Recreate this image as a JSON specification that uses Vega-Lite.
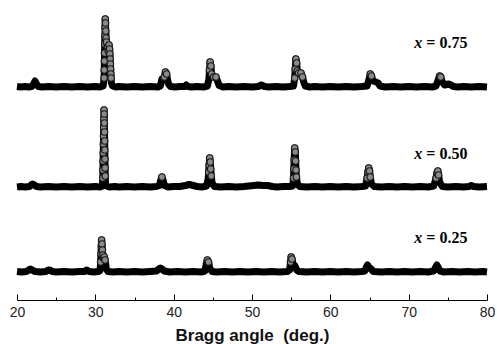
{
"$schema": "https://vega.github.io/schema/vega-lite/v6.json",
"width": 470, "height": 300,
"autosize": "none",
"padding": {"left": 17, "top": 0, "right": 10, "bottom": 44},
"background": "white",
"config": {"view": {"stroke": null}},
"datasets": {
"xrd": [
{"s":"0.75","a":20.0,"i":213.5},{"s":"0.75","a":20.5,"i":213},{"s":"0.75","a":21.0,"i":213.5},{"s":"0.75","a":21.5,"i":213},{"s":"0.75","a":21.9,"i":213.5},{"s":"0.75","a":22.1,"i":216},{"s":"0.75","a":22.3,"i":219},{"s":"0.75","a":22.5,"i":216},{"s":"0.75","a":22.7,"i":213.5},{"s":"0.75","a":23.2,"i":213},{"s":"0.75","a":24,"i":213.5},{"s":"0.75","a":25,"i":213},{"s":"0.75","a":26,"i":213.5},{"s":"0.75","a":27,"i":213},{"s":"0.75","a":28,"i":213.5},{"s":"0.75","a":29,"i":213},{"s":"0.75","a":30,"i":213.5},{"s":"0.75","a":30.6,"i":213},{"s":"0.75","a":31.0,"i":214},
{"s":"0.75","a":31.12,"i":222},{"s":"0.75","a":31.14,"i":230},{"s":"0.75","a":31.16,"i":239},{"s":"0.75","a":31.18,"i":247},{"s":"0.75","a":31.2,"i":256},{"s":"0.75","a":31.22,"i":264},{"s":"0.75","a":31.24,"i":273},{"s":"0.75","a":31.27,"i":281},{"s":"0.75","a":31.3,"i":277},{"s":"0.75","a":31.33,"i":269},{"s":"0.75","a":31.37,"i":262},{"s":"0.75","a":31.42,"i":258},{"s":"0.75","a":31.55,"i":253},{"s":"0.75","a":31.65,"i":249},{"s":"0.75","a":31.75,"i":255},{"s":"0.75","a":31.82,"i":251},{"s":"0.75","a":31.86,"i":246},{"s":"0.75","a":31.89,"i":241},{"s":"0.75","a":31.92,"i":236},{"s":"0.75","a":31.95,"i":231},{"s":"0.75","a":31.98,"i":226},{"s":"0.75","a":32.01,"i":222},{"s":"0.75","a":32.05,"i":217},{"s":"0.75","a":32.2,"i":214},{"s":"0.75","a":32.6,"i":213},{"s":"0.75","a":33,"i":213.5},{"s":"0.75","a":34,"i":213},{"s":"0.75","a":35,"i":213.5},{"s":"0.75","a":36,"i":213},{"s":"0.75","a":37,"i":213.5},{"s":"0.75","a":38,"i":213},{"s":"0.75","a":38.3,"i":214},{"s":"0.75","a":38.5,"i":221},{"s":"0.75","a":38.65,"i":220},{"s":"0.75","a":38.8,"i":223},{"s":"0.75","a":38.95,"i":228},{"s":"0.75","a":39.1,"i":226},{"s":"0.75","a":39.2,"i":221},{"s":"0.75","a":39.35,"i":216},{"s":"0.75","a":39.6,"i":213.5},{"s":"0.75","a":40.2,"i":213},{"s":"0.75","a":40.8,"i":213.5},{"s":"0.75","a":41.4,"i":213.5},{"s":"0.75","a":41.6,"i":215},{"s":"0.75","a":41.8,"i":213.5},{"s":"0.75","a":42.3,"i":213},{"s":"0.75","a":43,"i":213.5},{"s":"0.75","a":43.8,"i":213},{"s":"0.75","a":44.3,"i":214},{"s":"0.75","a":44.5,"i":221},{"s":"0.75","a":44.57,"i":230},{"s":"0.75","a":44.65,"i":238},{"s":"0.75","a":44.75,"i":234},{"s":"0.75","a":44.85,"i":226},{"s":"0.75","a":45.1,"i":223},{"s":"0.75","a":45.4,"i":223},{"s":"0.75","a":45.6,"i":219},{"s":"0.75","a":45.8,"i":214.5},{"s":"0.75","a":46.3,"i":213},{"s":"0.75","a":47,"i":213.5},{"s":"0.75","a":48,"i":213},{"s":"0.75","a":49,"i":213.5},{"s":"0.75","a":50,"i":213},{"s":"0.75","a":50.8,"i":213.5},{"s":"0.75","a":51.2,"i":215},{"s":"0.75","a":51.6,"i":213.5},{"s":"0.75","a":52.2,"i":213},{"s":"0.75","a":53,"i":213.5},{"s":"0.75","a":54,"i":213},{"s":"0.75","a":54.8,"i":213.5},{"s":"0.75","a":55.3,"i":214},{"s":"0.75","a":55.45,"i":222},{"s":"0.75","a":55.52,"i":231},{"s":"0.75","a":55.6,"i":241},{"s":"0.75","a":55.7,"i":237},{"s":"0.75","a":55.78,"i":229},{"s":"0.75","a":55.95,"i":227},{"s":"0.75","a":56.25,"i":227},{"s":"0.75","a":56.45,"i":223},{"s":"0.75","a":56.6,"i":218},{"s":"0.75","a":56.8,"i":214},{"s":"0.75","a":57.4,"i":213},{"s":"0.75","a":58,"i":213.5},{"s":"0.75","a":59,"i":213},{"s":"0.75","a":60,"i":213.5},{"s":"0.75","a":61,"i":213},{"s":"0.75","a":62,"i":213.5},{"s":"0.75","a":63,"i":213},{"s":"0.75","a":64,"i":213.5},{"s":"0.75","a":64.7,"i":214},{"s":"0.75","a":64.95,"i":221},{"s":"0.75","a":65.1,"i":226},{"s":"0.75","a":65.25,"i":224},{"s":"0.75","a":65.45,"i":219},{"s":"0.75","a":65.85,"i":218},{"s":"0.75","a":66.1,"i":217},{"s":"0.75","a":66.35,"i":214},{"s":"0.75","a":67,"i":213},{"s":"0.75","a":68,"i":213.5},{"s":"0.75","a":69,"i":213},{"s":"0.75","a":70,"i":213.5},{"s":"0.75","a":71,"i":213},{"s":"0.75","a":72,"i":213.5},{"s":"0.75","a":73,"i":213},{"s":"0.75","a":73.5,"i":214},{"s":"0.75","a":73.8,"i":221},{"s":"0.75","a":73.95,"i":224},{"s":"0.75","a":74.1,"i":223},{"s":"0.75","a":74.3,"i":218},{"s":"0.75","a":74.6,"i":215},{"s":"0.75","a":75.1,"i":216},{"s":"0.75","a":75.4,"i":215},{"s":"0.75","a":75.7,"i":213.5},{"s":"0.75","a":76.3,"i":213},{"s":"0.75","a":77,"i":213.5},{"s":"0.75","a":78,"i":213},{"s":"0.75","a":79,"i":213.5},{"s":"0.75","a":80,"i":213},
{"s":"0.50","a":20.0,"i":113},{"s":"0.50","a":20.5,"i":113.5},{"s":"0.50","a":21,"i":113},{"s":"0.50","a":21.6,"i":113.5},{"s":"0.50","a":21.8,"i":115},{"s":"0.50","a":22.0,"i":116},{"s":"0.50","a":22.2,"i":115},{"s":"0.50","a":22.5,"i":113.5},{"s":"0.50","a":23,"i":113},{"s":"0.50","a":24,"i":113.5},{"s":"0.50","a":25,"i":113},{"s":"0.50","a":26,"i":113.5},{"s":"0.50","a":27,"i":113},{"s":"0.50","a":28,"i":113.5},{"s":"0.50","a":29,"i":113},{"s":"0.50","a":30,"i":113.5},{"s":"0.50","a":30.6,"i":113},{"s":"0.50","a":30.9,"i":114},
{"s":"0.50","a":30.95,"i":122},{"s":"0.50","a":30.97,"i":130},{"s":"0.50","a":30.99,"i":139},{"s":"0.50","a":31.01,"i":147},{"s":"0.50","a":31.03,"i":156},{"s":"0.50","a":31.05,"i":164},{"s":"0.50","a":31.07,"i":173},{"s":"0.50","a":31.09,"i":181},{"s":"0.50","a":31.11,"i":190},{"s":"0.50","a":31.13,"i":186},{"s":"0.50","a":31.15,"i":177},{"s":"0.50","a":31.17,"i":168},{"s":"0.50","a":31.19,"i":159},{"s":"0.50","a":31.21,"i":150},{"s":"0.50","a":31.23,"i":141},{"s":"0.50","a":31.25,"i":132},{"s":"0.50","a":31.27,"i":124},{"s":"0.50","a":31.3,"i":117},{"s":"0.50","a":31.4,"i":114},{"s":"0.50","a":31.8,"i":113},{"s":"0.50","a":32.5,"i":113.5},{"s":"0.50","a":33,"i":113},{"s":"0.50","a":34,"i":113.5},{"s":"0.50","a":35,"i":113},{"s":"0.50","a":36,"i":113.5},{"s":"0.50","a":37,"i":113},{"s":"0.50","a":37.8,"i":113.5},{"s":"0.50","a":38.2,"i":114.5},{"s":"0.50","a":38.35,"i":120},{"s":"0.50","a":38.5,"i":123},{"s":"0.50","a":38.65,"i":120},{"s":"0.50","a":38.8,"i":114.5},{"s":"0.50","a":39.3,"i":113},{"s":"0.50","a":40,"i":113.5},{"s":"0.50","a":40.8,"i":113.5},{"s":"0.50","a":41.5,"i":114.5},{"s":"0.50","a":42.0,"i":115.5},{"s":"0.50","a":42.5,"i":114.5},{"s":"0.50","a":43,"i":113.5},{"s":"0.50","a":43.6,"i":113},{"s":"0.50","a":44.2,"i":114},{"s":"0.50","a":44.4,"i":121},{"s":"0.50","a":44.47,"i":128},{"s":"0.50","a":44.53,"i":135},{"s":"0.50","a":44.6,"i":142},{"s":"0.50","a":44.67,"i":138},{"s":"0.50","a":44.73,"i":131},{"s":"0.50","a":44.8,"i":124},{"s":"0.50","a":44.9,"i":117},{"s":"0.50","a":45.2,"i":113.5},{"s":"0.50","a":46,"i":113},{"s":"0.50","a":47,"i":113.5},{"s":"0.50","a":48,"i":113},{"s":"0.50","a":49,"i":113.5},{"s":"0.50","a":49.6,"i":114},{"s":"0.50","a":50.2,"i":114.5},{"s":"0.50","a":50.8,"i":115},{"s":"0.50","a":51.4,"i":114.5},{"s":"0.50","a":52,"i":114.5},{"s":"0.50","a":52.6,"i":113.5},{"s":"0.50","a":53.2,"i":113},{"s":"0.50","a":54,"i":113.5},{"s":"0.50","a":54.8,"i":113.5},{"s":"0.50","a":55.2,"i":114},{"s":"0.50","a":55.3,"i":122},{"s":"0.50","a":55.34,"i":131},{"s":"0.50","a":55.38,"i":140},{"s":"0.50","a":55.45,"i":152},{"s":"0.50","a":55.52,"i":148},{"s":"0.50","a":55.57,"i":139},{"s":"0.50","a":55.62,"i":130},{"s":"0.50","a":55.67,"i":123},{"s":"0.50","a":55.8,"i":116},{"s":"0.50","a":56.1,"i":113.5},{"s":"0.50","a":57,"i":113},{"s":"0.50","a":58,"i":113.5},{"s":"0.50","a":59,"i":113},{"s":"0.50","a":60,"i":113.5},{"s":"0.50","a":61,"i":113},{"s":"0.50","a":62,"i":113.5},{"s":"0.50","a":63,"i":113},{"s":"0.50","a":64,"i":113.5},{"s":"0.50","a":64.5,"i":114},{"s":"0.50","a":64.7,"i":122},{"s":"0.50","a":64.8,"i":128},{"s":"0.50","a":64.9,"i":132},{"s":"0.50","a":65.0,"i":129},{"s":"0.50","a":65.1,"i":123},{"s":"0.50","a":65.25,"i":116},{"s":"0.50","a":65.6,"i":113.5},{"s":"0.50","a":66.5,"i":113},{"s":"0.50","a":67.5,"i":113.5},{"s":"0.50","a":68.5,"i":113},{"s":"0.50","a":69.5,"i":113.5},{"s":"0.50","a":70.5,"i":113},{"s":"0.50","a":71.5,"i":113.5},{"s":"0.50","a":72.5,"i":113},{"s":"0.50","a":73.2,"i":114},{"s":"0.50","a":73.5,"i":122},{"s":"0.50","a":73.62,"i":127},{"s":"0.50","a":73.72,"i":129},{"s":"0.50","a":73.82,"i":125},{"s":"0.50","a":73.95,"i":118},{"s":"0.50","a":74.3,"i":113.5},{"s":"0.50","a":75,"i":113},{"s":"0.50","a":76,"i":113.5},{"s":"0.50","a":77,"i":113},{"s":"0.50","a":77.7,"i":113.5},{"s":"0.50","a":78,"i":114.5},{"s":"0.50","a":78.3,"i":113.5},{"s":"0.50","a":79,"i":113},{"s":"0.50","a":80,"i":113.5},
{"s":"0.25","a":20.0,"i":28.5},{"s":"0.25","a":20.6,"i":28},{"s":"0.25","a":21.2,"i":28.5},{"s":"0.25","a":21.5,"i":30},{"s":"0.25","a":21.7,"i":31},{"s":"0.25","a":21.9,"i":30},{"s":"0.25","a":22.3,"i":28.5},{"s":"0.25","a":23,"i":28},{"s":"0.25","a":23.7,"i":28.5},{"s":"0.25","a":24.0,"i":30},{"s":"0.25","a":24.2,"i":30},{"s":"0.25","a":24.5,"i":28.5},{"s":"0.25","a":25,"i":28},{"s":"0.25","a":26,"i":28.5},{"s":"0.25","a":27,"i":28},{"s":"0.25","a":28,"i":28.5},{"s":"0.25","a":28.6,"i":28.5},{"s":"0.25","a":28.9,"i":30},{"s":"0.25","a":29.2,"i":28.5},{"s":"0.25","a":29.8,"i":28},{"s":"0.25","a":30.4,"i":28.5},{"s":"0.25","a":30.6,"i":29.5},{"s":"0.25","a":30.68,"i":38},{"s":"0.25","a":30.72,"i":46},{"s":"0.25","a":30.76,"i":54},{"s":"0.25","a":30.8,"i":60},{"s":"0.25","a":30.85,"i":56},{"s":"0.25","a":30.9,"i":50},{"s":"0.25","a":30.96,"i":45},{"s":"0.25","a":31.05,"i":42},{"s":"0.25","a":31.15,"i":43},{"s":"0.25","a":31.25,"i":40},{"s":"0.25","a":31.32,"i":36},{"s":"0.25","a":31.4,"i":31},{"s":"0.25","a":31.6,"i":28.5},{"s":"0.25","a":32.3,"i":28},{"s":"0.25","a":33,"i":28.5},{"s":"0.25","a":34,"i":28},{"s":"0.25","a":35,"i":28.5},{"s":"0.25","a":36,"i":28},{"s":"0.25","a":37,"i":28.5},{"s":"0.25","a":37.8,"i":29},{"s":"0.25","a":38.1,"i":31},{"s":"0.25","a":38.3,"i":32},{"s":"0.25","a":38.5,"i":31},{"s":"0.25","a":38.8,"i":29},{"s":"0.25","a":39.5,"i":28},{"s":"0.25","a":40.5,"i":28.5},{"s":"0.25","a":41.5,"i":28},{"s":"0.25","a":42.5,"i":28.5},{"s":"0.25","a":43.5,"i":28},{"s":"0.25","a":44.0,"i":29},{"s":"0.25","a":44.15,"i":36},{"s":"0.25","a":44.3,"i":40},{"s":"0.25","a":44.45,"i":38},{"s":"0.25","a":44.6,"i":32},{"s":"0.25","a":44.9,"i":28.5},{"s":"0.25","a":45.5,"i":28},{"s":"0.25","a":46.5,"i":28.5},{"s":"0.25","a":47.5,"i":28},{"s":"0.25","a":48.5,"i":28.5},{"s":"0.25","a":49.5,"i":28},{"s":"0.25","a":50.5,"i":28.5},{"s":"0.25","a":51.5,"i":28},{"s":"0.25","a":52.5,"i":28.5},{"s":"0.25","a":53.5,"i":28},{"s":"0.25","a":54.5,"i":28.5},{"s":"0.25","a":54.8,"i":30},{"s":"0.25","a":54.92,"i":38},{"s":"0.25","a":55.0,"i":43},{"s":"0.25","a":55.1,"i":41},{"s":"0.25","a":55.25,"i":36},{"s":"0.25","a":55.5,"i":34},{"s":"0.25","a":55.7,"i":30},{"s":"0.25","a":56,"i":28.5},{"s":"0.25","a":57,"i":28},{"s":"0.25","a":58,"i":28.5},{"s":"0.25","a":59,"i":28},{"s":"0.25","a":60,"i":28.5},{"s":"0.25","a":61,"i":28},{"s":"0.25","a":62,"i":28.5},{"s":"0.25","a":63,"i":28},{"s":"0.25","a":64,"i":28.5},{"s":"0.25","a":64.4,"i":29},{"s":"0.25","a":64.6,"i":33},{"s":"0.25","a":64.75,"i":35},{"s":"0.25","a":64.9,"i":33},{"s":"0.25","a":65.2,"i":31},{"s":"0.25","a":65.5,"i":28.5},{"s":"0.25","a":66.5,"i":28},{"s":"0.25","a":67.5,"i":28.5},{"s":"0.25","a":68.5,"i":28},{"s":"0.25","a":69.5,"i":28.5},{"s":"0.25","a":70.5,"i":28},{"s":"0.25","a":71.5,"i":28.5},{"s":"0.25","a":72.5,"i":28},{"s":"0.25","a":73.2,"i":29},{"s":"0.25","a":73.45,"i":33},{"s":"0.25","a":73.6,"i":35},{"s":"0.25","a":73.75,"i":33},{"s":"0.25","a":74,"i":29},{"s":"0.25","a":74.5,"i":28},{"s":"0.25","a":75.5,"i":28.5},{"s":"0.25","a":76.5,"i":28},{"s":"0.25","a":77.5,"i":28.5},{"s":"0.25","a":78.5,"i":28},{"s":"0.25","a":79.5,"i":28.5},{"s":"0.25","a":80,"i":28}
],
"labels": [
{"t":"= 0.75","a":72.0,"i":257},
{"t":"= 0.50","a":72.0,"i":146.5},
{"t":"= 0.25","a":72.0,"i":62.5}
]
},
"layer": [
{
"data": {"name": "xrd"},
"mark": {"type": "line", "color": "black", "strokeWidth": 7, "strokeJoin": "round", "strokeCap": "butt"},
"encoding": {
"x": {"field": "a", "type": "quantitative", "scale": {"domain": [20, 80], "nice": false, "zero": false},
"axis": {"orient": "bottom", "values": [20, 30, 40, 50, 60, 70, 80], "tickSize": -6, "tickColor": "black", "domainColor": "black", "domainWidth": 1, "tickWidth": 1, "grid": false, "labelFont": "Liberation Sans", "labelFontSize": 14, "labelColor": "#222222", "labelPadding": 11, "labelFlush": false, "title": "Bragg angle \u00a0(deg.)", "titleFont": "Liberation Sans", "titleFontSize": 17, "titleFontWeight": "bold", "titleColor": "#111111", "titlePadding": 8}},
"y": {"field": "i", "type": "quantitative", "scale": {"domain": [0, 300], "nice": false, "zero": false}, "axis": null},
"detail": {"field": "s"}
}
},
{
"data": {"name": "xrd"},
"transform": [
{"joinaggregate": [{"op": "min", "field": "i", "as": "m"}], "groupby": ["s"]},
{"filter": "datum.i - datum.m > 8"}
],
"mark": {"type": "point", "shape": "circle", "filled": true, "fill": "#8a8a8a", "stroke": "#1a1a1a", "strokeWidth": 1.2, "size": 42, "opacity": 1, "fillOpacity": 1},
"encoding": {
"x": {"field": "a", "type": "quantitative", "axis": {"orient": "bottom", "values": [25, 35, 45, 55, 65, 75], "tickSize": -3, "tickColor": "black", "labels": false, "domain": false, "grid": false, "title": null}},
"y": {"field": "i", "type": "quantitative", "axis": null}
}
},
{
"data": {"name": "labels"},
"mark": {"type": "text", "text": "x", "align": "right", "baseline": "middle", "dx": -2, "font": "Liberation Serif", "fontSize": 16, "fontWeight": "bold", "fontStyle": "italic", "color": "black"},
"encoding": {
"x": {"field": "a", "type": "quantitative", "axis": null},
"y": {"field": "i", "type": "quantitative", "axis": null}
}
},
{
"data": {"name": "labels"},
"mark": {"type": "text", "align": "left", "baseline": "middle", "dx": 2, "font": "Liberation Serif", "fontSize": 16, "fontWeight": "bold", "color": "black"},
"encoding": {
"x": {"field": "a", "type": "quantitative", "axis": null},
"y": {"field": "i", "type": "quantitative", "axis": null},
"text": {"field": "t"}
}
}
],
"resolve": {"axis": {"x": "independent"}}
}
